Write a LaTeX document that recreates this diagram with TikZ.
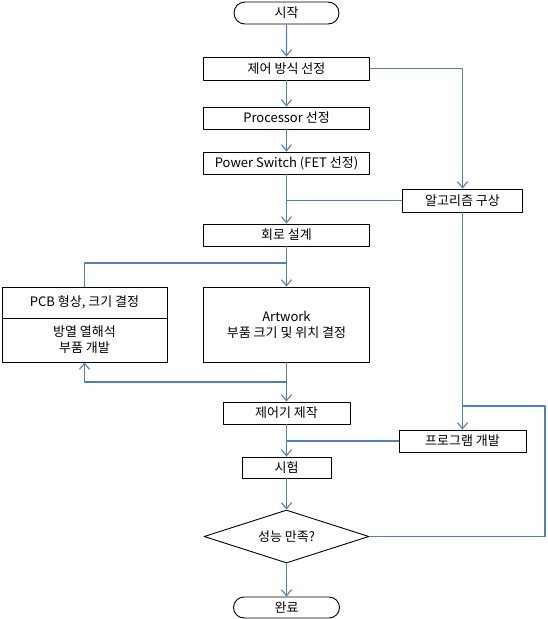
\documentclass[tikz,border=0pt]{standalone}
\usepackage{fontspec}
\setmainfont{Noto Sans CJK KR}
\usetikzlibrary{shapes.geometric,shapes.misc,arrows.meta}
\definecolor{flowblue}{HTML}{4F81BD}
\begin{document}
\begin{tikzpicture}[x=1pt, y=-1pt, font=\fontsize{13}{16}\selectfont, line join=round,
  >={Straight Barb[length=6pt,width=10pt]}]
\tikzset{box/.style={draw, line width=0.9pt, inner sep=0pt, minimum height=23pt, align=center},
  term/.style={draw, line width=0.9pt, rounded rectangle, inner sep=0pt},
  flow/.style={draw=flowblue, line width=1.1pt}}
\useasboundingbox (0,0) rectangle (547,619);
% nodes
\node[term, minimum width=105pt, minimum height=22pt] (start) at (286.5,13) {시작};
\node[box, minimum width=166pt] (ctrl) at (286.5,68.5) {제어 방식 선정};
\node[box, minimum width=166pt, minimum height=22pt] (proc) at (286.5,118) {Processor 선정};
\node[box, minimum width=166pt, minimum height=22pt] (fet) at (286.5,163) {Power Switch (FET 선정)};
\node[box, minimum width=120pt] (algo) at (462.5,200.5) {알고리즘 구상};
\node[box, minimum width=166pt, minimum height=22pt] (circ) at (286.5,235) {회로 설계};
\node[box, minimum width=166pt, minimum height=75pt] (art) at (286.5,324.5) {Artwork\\부품 크기 및 위치 결정};
\node[box, minimum width=165pt, minimum height=31pt] (pcb) at (84.5,302.5) {PCB 형상, 크기 결정};
\node[box, minimum width=165pt, minimum height=44pt] (heat) at (84.5,340) {방열 열해석\\부품 개발};
\node[box, minimum width=127pt, minimum height=22pt] (make) at (286.5,413) {제어기 제작};
\node[box, minimum width=127pt, minimum height=22pt] (prog) at (462.5,441) {프로그램 개발};
\node[box, minimum width=89pt, minimum height=21pt] (test) at (286.5,467.5) {시험};
\node[draw, line width=0.9pt, diamond, aspect=3.1, inner sep=0pt, minimum width=165pt, minimum height=53pt] (cond) at (286.5,536.5) {성능 만족?};
\node[term, minimum width=106pt, minimum height=21pt] (end) at (286.5,607.5) {완료};
\coordinate (split1) at (286.5,263);
\coordinate (split2) at (286.5,382);
\coordinate (back) at (545,406);
% connectors
\draw[flow, ->] (start) -- (ctrl);
\draw[flow, ->] (ctrl) -- (proc);
\draw[flow, ->] (proc) -- (fet);
\draw[flow, ->] (fet) -- (circ);
\draw[flow, ->] (ctrl.east) -| (algo.north);
\draw[flow] (algo.west) -- (algo.west -| fet.south);
\draw[flow, ->] (circ) -- (art);
\draw[flow] (split1) -| (pcb.north);
\draw[flow, ->] (art) -- (make);
\draw[flow, ->] (split2) -| (heat.south);
\draw[flow, ->] (algo) -- (prog);
\draw[flow] (prog.west) -- (prog.west -| make.south);
\draw[flow, ->] (make) -- (test);
\draw[flow, ->] (test) -- (cond);
\draw[flow, ->] (cond) -- (end);
\draw[flow] (cond.east) -| (back) -- (back -| algo.south);
\end{tikzpicture}
\end{document}
